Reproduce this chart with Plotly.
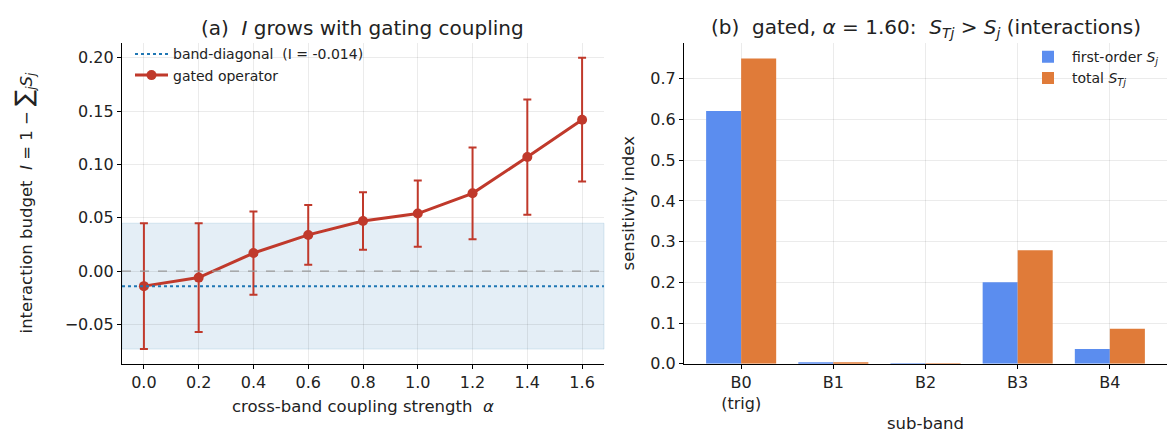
import plotly.graph_objects as go

# ---- data ----
alpha = [0.0, 0.2, 0.4, 0.6, 0.8, 1.0, 1.2, 1.4, 1.6]
I_gated = [-0.014, -0.006, 0.017, 0.034, 0.047, 0.054, 0.073, 0.107, 0.142]
I_err = [0.059, 0.051, 0.039, 0.028, 0.027, 0.031, 0.043, 0.054, 0.058]
I_diag = -0.014
band_lo, band_hi = -0.073, 0.045

bands = ["B0<br>(trig)", "B1", "B2", "B3", "B4"]
S_first = [0.621, 0.002, 0.0005, 0.200, 0.036]
S_total = [0.750, 0.003, 0.0005, 0.279, 0.086]

left_ticks = [-0.05, 0.00, 0.05, 0.10, 0.15, 0.20]
left_ticktext = ["\u22120.05", "0.00", "0.05", "0.10", "0.15", "0.20"]
right_ticks = [0.0, 0.1, 0.2, 0.3, 0.4, 0.5, 0.6, 0.7]
x_ticks = [0.0, 0.2, 0.4, 0.6, 0.8, 1.0, 1.2, 1.4, 1.6]

FONT = "DejaVu Sans"
RED = "#c0392b"
TABBLUE = "#1f77b4"
BLUE = "#5b8def"
ORANGE = "#e07b39"
GRID = "rgba(0,0,0,0.08)"
TXT = "#222222"

W, H = 1176, 439
DX = 8  # page offset compensation (horizontal)

def px(x):
    return (x - DX) / W

def py(y):
    return 1 - y / H

L1, R1 = px(122), px(604)
L2, R2 = px(684), px(1167)
B, T = py(364), py(36)

fig = go.Figure()

# legend entry for the band-diagonal line (line itself drawn as axis-spanning shape)
fig.add_trace(go.Scatter(
    x=[None], y=[None], mode="lines", name="band-diagonal  (I = -0.014)",
    line=dict(color=TABBLUE, width=2, dash="dot"), xaxis="x", yaxis="y", legend="legend"))

fig.add_trace(go.Scatter(
    x=alpha, y=I_gated, mode="lines+markers", name="gated operator",
    line=dict(color=RED, width=3), marker=dict(color=RED, size=10),
    error_y=dict(type="data", array=I_err, visible=True, color=RED, thickness=2, width=4),
    xaxis="x", yaxis="y", legend="legend"))

fig.add_trace(go.Bar(
    x=bands, y=S_first, name="first-order <i>S<sub>j</sub></i>", marker=dict(color=BLUE, line=dict(width=0)),
    xaxis="x2", yaxis="y2", legend="legend2"))
fig.add_trace(go.Bar(
    x=bands, y=S_total, name="total <i>S<sub>Tj</sub></i>", marker=dict(color=ORANGE, line=dict(width=0)),
    xaxis="x2", yaxis="y2", legend="legend2"))

shapes = [
    dict(type="rect", xref="x domain", yref="y", x0=0, x1=1, y0=band_lo, y1=band_hi,
         fillcolor="rgba(31,119,180,0.12)", line=dict(color="rgba(31,119,180,0.14)", width=1), layer="below"),
    dict(type="line", xref="x domain", yref="y", x0=0, x1=1, y0=0, y1=0,
         line=dict(color="#999999", width=1.3, dash="dash"), layer="above"),
    dict(type="line", xref="x domain", yref="y", x0=0, x1=1, y0=I_diag, y1=I_diag,
         line=dict(color=TABBLUE, width=2, dash="dot"), layer="above"),
]

axis_common = dict(showline=True, linecolor="black", linewidth=1.2, mirror=False,
                   ticks="outside", ticklen=4, tickcolor="black", tickwidth=1,
                   showgrid=True, gridcolor=GRID, gridwidth=1, zeroline=False,
                   tickfont=dict(family=FONT, size=16, color=TXT))

def ann(text, x, y, size, angle=0):
    return dict(text=text, x=x, y=y, xref="paper", yref="paper", showarrow=False,
                xanchor="center", yanchor="middle", textangle=angle,
                font=dict(family=FONT, size=size, color=TXT))

fig.update_layout(
    width=W, height=H, margin=dict(l=0, r=0, t=0, b=0),
    paper_bgcolor="white", plot_bgcolor="white",
    font=dict(family=FONT, color=TXT),
    barmode="group", bargap=0.24, bargroupgap=0.0,
    shapes=shapes,
    xaxis=dict(domain=[L1, R1], range=[-0.08, 1.68], tickvals=x_ticks, tickformat=".1f",
               anchor="y", **axis_common),
    yaxis=dict(domain=[B, T], range=[-0.0867, 0.2137], tickvals=left_ticks, ticktext=left_ticktext,
               anchor="x", **axis_common),
    xaxis2=dict(domain=[L2, R2], range=[-0.62, 4.62], anchor="y2", **axis_common),
    yaxis2=dict(domain=[B, T], range=[0, 0.7875], tickvals=right_ticks, tickformat=".1f",
                anchor="x2", **axis_common),
    legend=dict(x=px(130), y=py(31), xanchor="left", yanchor="top", bgcolor="rgba(0,0,0,0)",
                font=dict(family=FONT, size=14, color=TXT), tracegroupgap=0, itemwidth=33),
    legend2=dict(x=px(1024), y=py(34), xanchor="left", yanchor="top", bgcolor="rgba(0,0,0,0)",
                 font=dict(family=FONT, size=14, color=TXT), tracegroupgap=9, itemwidth=38),
    annotations=[
        ann("(a)  <i>I</i> grows with gating coupling", (L1 + R1) / 2, py(20), 20),
        ann("(b)  gated, <i>\u03b1</i> = 1.60:  <i>S<sub>Tj</sub></i> > <i>S<sub>j</sub></i> (interactions)",
            (L2 + R2) / 2, py(20), 20),
        ann("cross-band coupling strength  <i>\u03b1</i>", (L1 + R1) / 2, py(408), 16.5),
        ann("sub-band", (L2 + R2) / 2, py(425), 16.5),
        ann("interaction budget  <i>I</i> = 1 \u2212 <span style='font-size:24px'>\u2211</span>"
            "<sub><i>j</i></sub><i>S<sub>j</sub></i>", px(24), py(200), 16.5, -90),
        ann("sensitivity index", px(628), (B + T) / 2, 16.5, -90),
    ],
)

fig.write_html("out.html")
